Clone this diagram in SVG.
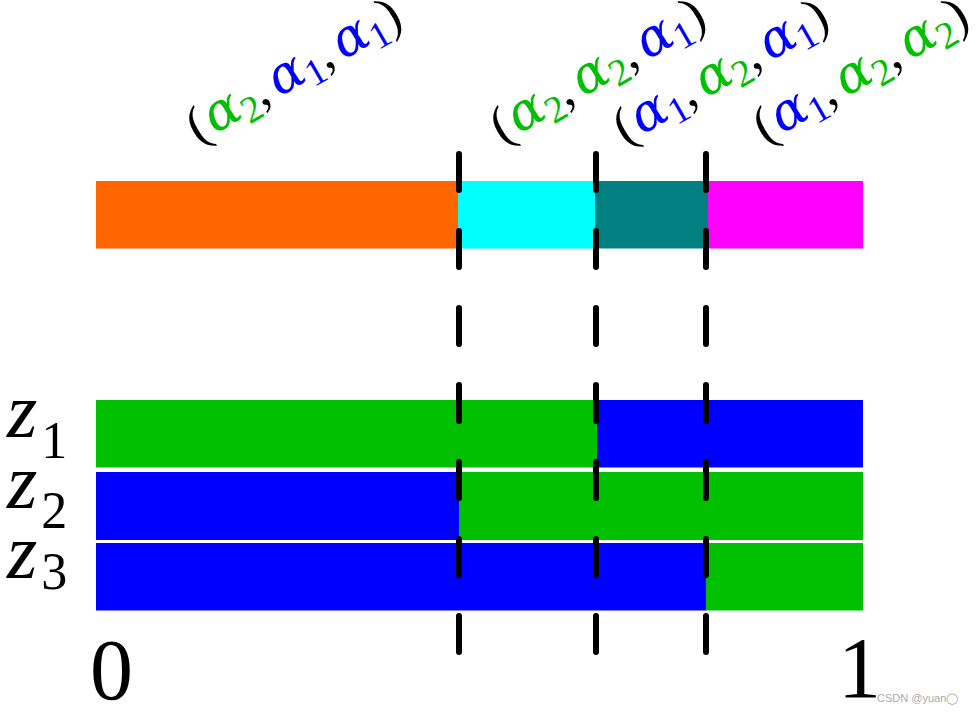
<svg xmlns="http://www.w3.org/2000/svg" width="979" height="715" viewBox="0 0 979 715">
<style>
.lbl{font-family:"Liberation Serif","Times New Roman",serif;font-size:52px;fill:#000}
.g{fill:#00C000}.b{fill:#0000FF}
.al{font-family:"DejaVu Serif",serif;font-style:italic}
.sub{font-size:38px}
.z{font-family:"Liberation Serif","Times New Roman",serif;font-size:78px;font-style:italic;fill:#000}
.zs{font-size:52px;font-style:normal}
.num{font-family:"Liberation Serif","Times New Roman",serif;font-size:86px;fill:#000}
.dash{stroke:#000;stroke-width:6;stroke-linecap:round;stroke-dasharray:36 41;fill:none}
</style>
<rect width="979" height="715" fill="#fff"/>
<g id="top-bar">
<rect x="96" y="181" width="362" height="67.5" fill="#FF6600"/>
<rect x="458" y="181" width="137" height="67.5" fill="#00FFFF"/>
<rect x="595" y="181" width="113" height="67.5" fill="#008080"/>
<rect x="708" y="181" width="155" height="67.5" fill="#FF00FF"/>
</g>
<g id="z1-bar">
<rect x="96" y="400" width="501" height="67.5" fill="#00C000"/>
<rect x="597" y="400" width="266" height="67.5" fill="#0000FF"/>
</g>
<g id="z2-bar">
<rect x="96" y="472" width="363" height="68" fill="#0000FF"/>
<rect x="459" y="472" width="404" height="68" fill="#00C000"/>
</g>
<g id="z3-bar">
<rect x="96" y="543" width="610" height="67.5" fill="#0000FF"/>
<rect x="706" y="543" width="157" height="67.5" fill="#00C000"/>
</g>
<g id="connectors">
<line class="dash" x1="459" y1="154" x2="459" y2="652"/>
<line class="dash" x1="596" y1="154" x2="596" y2="652"/>
<line class="dash" x1="706" y1="154" x2="706" y2="652"/>
</g>
<g id="label-1">
<text class="lbl" transform="translate(198,144) rotate(-30)">(<tspan class="g al" dx="2">α</tspan><tspan class="g sub" dy="9">2</tspan><tspan dy="-9">,</tspan><tspan class="b al" dx="7">α</tspan><tspan class="b sub" dy="9">1</tspan><tspan dy="-9">,</tspan><tspan class="b al" dx="7">α</tspan><tspan class="b sub" dy="9">1</tspan><tspan dy="-9">)</tspan></text>
</g>
<g id="label-2">
<text class="lbl" transform="translate(502,144) rotate(-30)">(<tspan class="g al" dx="2">α</tspan><tspan class="g sub" dy="9">2</tspan><tspan dy="-9">,</tspan><tspan class="g al" dx="7">α</tspan><tspan class="g sub" dy="9">2</tspan><tspan dy="-9">,</tspan><tspan class="b al" dx="7">α</tspan><tspan class="b sub" dy="9">1</tspan><tspan dy="-9">)</tspan></text>
</g>
<g id="label-3">
<text class="lbl" transform="translate(625,145) rotate(-30)">(<tspan class="b al" dx="2">α</tspan><tspan class="b sub" dy="9">1</tspan><tspan dy="-9">,</tspan><tspan class="g al" dx="7">α</tspan><tspan class="g sub" dy="9">2</tspan><tspan dy="-9">,</tspan><tspan class="b al" dx="7">α</tspan><tspan class="b sub" dy="9">1</tspan><tspan dy="-9">)</tspan></text>
</g>
<g id="label-4">
<text class="lbl" transform="translate(765,144) rotate(-30)">(<tspan class="b al" dx="2">α</tspan><tspan class="b sub" dy="9">1</tspan><tspan dy="-9">,</tspan><tspan class="g al" dx="7">α</tspan><tspan class="g sub" dy="9">2</tspan><tspan dy="-9">,</tspan><tspan class="g al" dx="7">α</tspan><tspan class="g sub" dy="9">2</tspan><tspan dy="-9">)</tspan></text>
</g>
<g id="z-labels">
<text class="z" x="7" y="437">z<tspan class="zs" dx="4" dy="21">1</tspan></text>
<text class="z" x="7" y="508">z<tspan class="zs" dx="4" dy="20">2</tspan></text>
<text class="z" x="7" y="578">z<tspan class="zs" dx="4" dy="11">3</tspan></text>
</g>
<g id="axis-labels">
<text class="num" x="90" y="699">0</text>
<text class="num" x="838" y="697">1</text>
</g>
<text x="877" y="702" font-family="Liberation Sans,Arial,sans-serif" font-size="11" fill="#aaa">CSDN @yuan◯</text>
</svg>
